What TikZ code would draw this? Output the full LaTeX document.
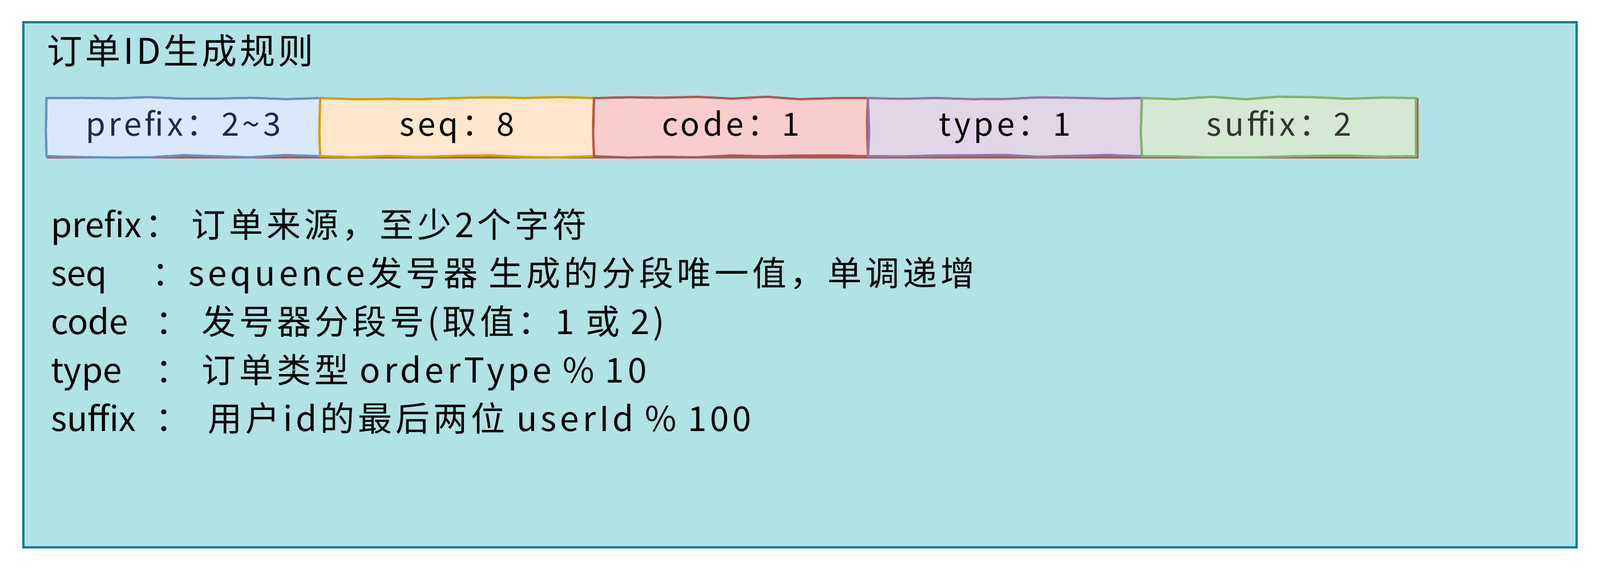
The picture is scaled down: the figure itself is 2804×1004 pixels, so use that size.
\documentclass[tikz,border=0pt]{standalone}
\usepackage{fontspec}
\setmainfont{Noto Sans CJK SC}
\newfontfamily\descfont[LetterSpace=10]{Noto Sans CJK SC}
\newfontfamily\titlefont[LetterSpace=8]{Noto Sans CJK SC}
\usetikzlibrary{decorations.pathmorphing}
\definecolor{frameFill}{HTML}{B0E3E6}
\definecolor{frameDraw}{HTML}{0E8088}
\definecolor{blueFill}{HTML}{DAE8FC}\definecolor{blueDraw}{HTML}{6C8EBF}
\definecolor{orangeFill}{HTML}{FFE6CC}\definecolor{orangeDraw}{HTML}{D79B00}
\definecolor{redFill}{HTML}{F8CECC}\definecolor{redDraw}{HTML}{B85450}
\definecolor{purpleFill}{HTML}{E1D5E7}\definecolor{purpleDraw}{HTML}{9673A6}
\definecolor{greenFill}{HTML}{D5E8D4}\definecolor{greenDraw}{HTML}{82B366}
\definecolor{navyText}{HTML}{1C2B4A}
\definecolor{grayText}{HTML}{333333}
\newcommand{\keyfont}{\normalfont\fontsize{60}{72}\selectfont}
\tikzset{
  segbox/.style={draw=#1Draw, fill=#1Fill, line width=4pt, minimum width=480pt, minimum height=102pt,
    inner sep=0pt, font=\descfont\fontsize{56}{64}\selectfont, text height=42pt, text depth=12pt,
    decorate, decoration={random steps, segment length=60pt, amplitude=2.5pt}},
  descline/.style={anchor=base west, inner sep=0pt, font=\descfont\fontsize{60}{72}\selectfont}
}
\begin{document}
\begin{tikzpicture}[x=1pt,y=-1pt]
\useasboundingbox (0,0) rectangle (2804,1004);
\node[draw=frameDraw, fill=frameFill, line width=3.5pt, minimum width=2722pt, minimum height=921pt,
  anchor=north west, inner sep=0pt, outer sep=0pt] (frame) at (41,39) {};
\node[anchor=west, inner sep=0pt, font=\titlefont\fontsize{62}{70}\selectfont] (title) at (82,89) {订单ID生成规则};
% strip background
\node[draw=redDraw, line width=4pt, minimum width=2400pt, minimum height=102pt, inner sep=0pt,
  anchor=north west] (strip) at (82,172) {};
\node[segbox=blue, text=navyText] (pre) at (321.5,223) {prefix：2\textasciitilde3};
\node[segbox=orange] (seq) at (801,223) {seq：8};
\node[segbox=red] (code) at (1281,223) {code：1};
\node[segbox=purple] (type) at (1761,223) {type：1};
\node[segbox=green, text=grayText] (suf) at (2241.5,223) {suffix：2};
% description
\node[descline] (l1) at (89,416) {\makebox[165pt][l]{\keyfont prefix}\makebox[81pt][l]{：}订单来源，至少2个字符};
\node[descline] (l2) at (89,501) {\makebox[177pt][l]{\keyfont seq}\makebox[64pt][l]{：}sequence发号器 生成的分段唯一值，单调递增};
\node[descline] (l3) at (89,586) {\makebox[183pt][l]{\keyfont code}\makebox[81pt][l]{：}发号器分段号(取值：1 或 2)};
\node[descline] (l4) at (89,671) {\makebox[183pt][l]{\keyfont type}\makebox[81pt][l]{：}订单类型 orderType \% 10};
\node[descline] (l5) at (89,756) {\makebox[183pt][l]{\keyfont suffix}\makebox[92pt][l]{：}用户id的最后两位 userId \% 100};
\end{tikzpicture}
\end{document}
